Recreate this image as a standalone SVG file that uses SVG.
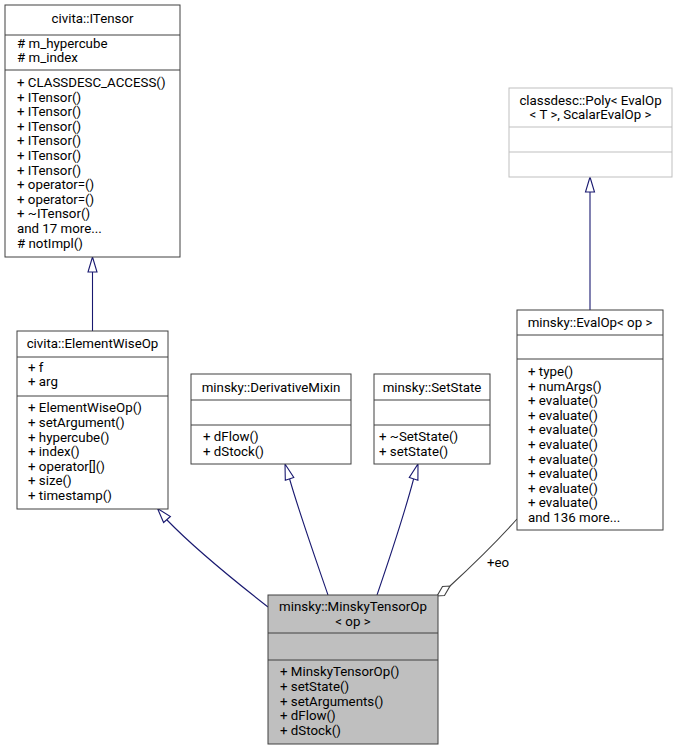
<svg xmlns="http://www.w3.org/2000/svg" width="677" height="751" viewBox="0 0 677 751">
<style>
text{font-family:Roboto,"Liberation Sans",sans-serif;font-size:13.3px;fill:#000}
.t{text-anchor:middle}
.box{fill:#fff;stroke:#404040;stroke-width:1}
.cur{fill:#bfbfbf;stroke:#404040;stroke-width:1}
.ext{fill:#fff;stroke:#bfbfbf;stroke-width:1}
.sep{stroke:#404040;stroke-width:1}
.sepx{stroke:#bfbfbf;stroke-width:1}
.edge{fill:none;stroke:#191970;stroke-width:1.1}
.head{fill:#fff;stroke:#191970;stroke-width:1.1}
.agg{fill:none;stroke:#404040;stroke-width:1.1}
.dia{fill:#fff;stroke:#404040;stroke-width:1.1}
</style>
<rect width="677" height="751" fill="#fff"/>
<g id="connectors">
<path class="edge" d="M92.5,331 V272"/>
<polygon class="head" points="92.5,257 88,272 97,272"/>
<path class="edge" d="M590,310 V192"/>
<polygon class="head" points="590,177 585.5,192 594.5,192"/>
<path class="edge" d="M268,607 C236,582 198,552 167,520"/>
<polygon class="head" points="157.5,508.5 170.4,516.5 163.6,522.5"/>
<path class="edge" d="M328,595 C316,560 300,515 289.6,479"/>
<polygon class="head" points="285,464 293.8,477.4 285.3,480.2"/>
<path class="edge" d="M377,595 C389,560 404,515 413.6,479"/>
<polygon class="head" points="418,464 417.9,480.2 409.3,477.5"/>
<path class="agg" d="M450,586 C476,562 500,538 517,519"/>
<polygon class="dia" points="437,596 442.5,586.5 450,586 444.5,595.5"/>
<text x="487" y="567">+eo</text>
</g>
<g id="node-ITensor">
<rect class="box" x="5" y="5" width="175" height="252"/>
<line class="sep" x1="5" y1="35" x2="180" y2="35"/>
<line class="sep" x1="5" y1="70" x2="180" y2="70"/>
<text class="t" x="92.5" y="22.5">civita::ITensor</text>
<text x="17" y="47.5"># m_hypercube</text>
<text x="17" y="62"># m_index</text>
<text x="17" y="87">+ CLASSDESC_ACCESS()</text>
<text x="17" y="101.6">+ ITensor()</text>
<text x="17" y="116.2">+ ITensor()</text>
<text x="17" y="130.8">+ ITensor()</text>
<text x="17" y="145.4">+ ITensor()</text>
<text x="17" y="160">+ ITensor()</text>
<text x="17" y="174.6">+ ITensor()</text>
<text x="17" y="189.2">+ operator=()</text>
<text x="17" y="203.8">+ operator=()</text>
<text x="17" y="218.4">+ ~ITensor()</text>
<text x="17" y="233">and 17 more...</text>
<text x="17" y="247.6"># notImpl()</text>
</g>
<g id="node-ElementWiseOp">
<rect class="box" x="17" y="331" width="151" height="178"/>
<line class="sep" x1="17" y1="357" x2="168" y2="357"/>
<line class="sep" x1="17" y1="396" x2="168" y2="396"/>
<text class="t" x="92.5" y="347.5">civita::ElementWiseOp</text>
<text x="28" y="371.7">+ f</text>
<text x="28" y="386.3">+ arg</text>
<text x="28" y="412.3">+ ElementWiseOp()</text>
<text x="28" y="426.9">+ setArgument()</text>
<text x="28" y="441.5">+ hypercube()</text>
<text x="28" y="456.1">+ index()</text>
<text x="28" y="470.7">+ operator[]()</text>
<text x="28" y="485.3">+ size()</text>
<text x="28" y="499.9">+ timestamp()</text>
</g>
<g id="node-DerivativeMixin">
<rect class="box" x="191" y="374" width="160" height="90"/>
<line class="sep" x1="191" y1="400" x2="351" y2="400"/>
<line class="sep" x1="191" y1="425" x2="351" y2="425"/>
<text class="t" x="271" y="391.5">minsky::DerivativeMixin</text>
<text x="203" y="441.3">+ dFlow()</text>
<text x="203" y="455.9">+ dStock()</text>
</g>
<g id="node-SetState">
<rect class="box" x="374" y="374" width="116" height="90"/>
<line class="sep" x1="374" y1="400" x2="490" y2="400"/>
<line class="sep" x1="374" y1="425" x2="490" y2="425"/>
<text class="t" x="432" y="391.5">minsky::SetState</text>
<text x="379" y="441.3">+ ~SetState()</text>
<text x="379" y="455.9">+ setState()</text>
</g>
<g id="node-Poly">
<rect class="ext" x="509" y="88" width="163" height="89"/>
<line class="sepx" x1="509" y1="127" x2="672" y2="127"/>
<line class="sepx" x1="509" y1="152" x2="672" y2="152"/>
<text class="t" x="590.5" y="104.5">classdesc::Poly&lt; EvalOp</text>
<text class="t" x="590.5" y="119">&lt; T &gt;, ScalarEvalOp &gt;</text>
</g>
<g id="node-EvalOp">
<rect class="box" x="517" y="310" width="146" height="220"/>
<line class="sep" x1="517" y1="335" x2="663" y2="335"/>
<line class="sep" x1="517" y1="359" x2="663" y2="359"/>
<text class="t" x="590" y="327">minsky::EvalOp&lt; op &gt;</text>
<text x="528" y="376">+ type()</text>
<text x="528" y="390.6">+ numArgs()</text>
<text x="528" y="405.2">+ evaluate()</text>
<text x="528" y="419.8">+ evaluate()</text>
<text x="528" y="434.4">+ evaluate()</text>
<text x="528" y="449">+ evaluate()</text>
<text x="528" y="463.6">+ evaluate()</text>
<text x="528" y="478.2">+ evaluate()</text>
<text x="528" y="492.8">+ evaluate()</text>
<text x="528" y="507.4">+ evaluate()</text>
<text x="528" y="522">and 136 more...</text>
</g>
<g id="node-MinskyTensorOp">
<rect class="cur" x="268" y="595" width="170" height="149"/>
<line class="sep" x1="268" y1="633" x2="438" y2="633"/>
<line class="sep" x1="268" y1="660" x2="438" y2="660"/>
<text class="t" x="353" y="611">minsky::MinskyTensorOp</text>
<text class="t" x="353" y="625.6">&lt; op &gt;</text>
<text x="280" y="676.3">+ MinskyTensorOp()</text>
<text x="280" y="690.9">+ setState()</text>
<text x="280" y="705.5">+ setArguments()</text>
<text x="280" y="720.1">+ dFlow()</text>
<text x="280" y="734.7">+ dStock()</text>
</g>
</svg>
